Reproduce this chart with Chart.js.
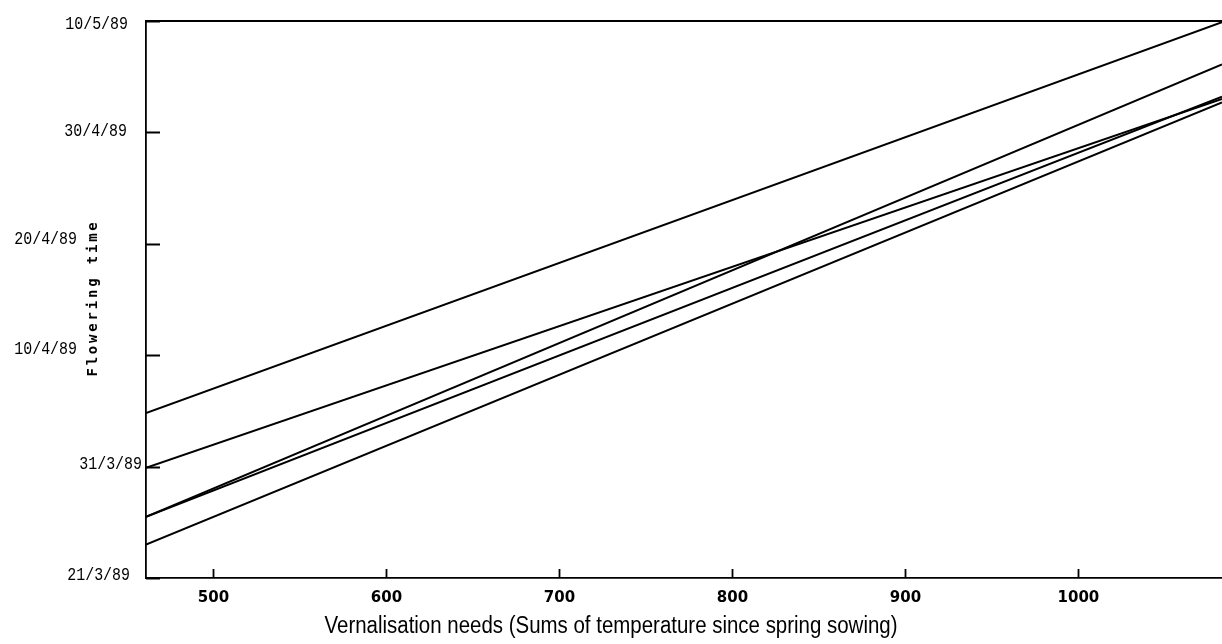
<!DOCTYPE html>
<html>
<head>
<meta charset="utf-8">
<title>Flowering time vs vernalisation needs</title>
<script src="https://cdn.jsdelivr.net/npm/chart.js@4.4.1/dist/chart.umd.min.js"></script>
<style>
  html, body { margin: 0; padding: 0; background: #fff; }
  #wrap { width: 1222px; height: 644px; position: relative; }
</style>
</head>
<body>
<div id="wrap"><canvas id="chart"></canvas></div>
<script>
// Vernalisation needs (sum of temperatures since spring sowing) at both ends of each fitted line
const vernalisationNeeds = [461, 1083];

// Flowering time, in days after 21/3/89, for each line at those two ends
const lineA = [14.8, 49.9];
const lineB = [9.9, 43.0];
const lineC = [5.5, 46.1];
const lineD = [5.5, 43.2];
const lineE = [3.0, 42.7];

// Axis ticks
const xTickValues = [500, 600, 700, 800, 900, 1000];
const dateTickDays = [0, 10, 20, 30, 40, 50];
const dateTickLabels = ['21/3/89', '31/3/89', '10/4/89', '20/4/89', '30/4/89', '10/5/89'];

const xTitle = 'Vernalisation needs (Sums of temperature since spring sowing)';
const yTitle = 'Flowering time';

// Where each date label sits: right edge (px) and vertical nudge from its tick
const dateLabelRight = [130, 142, 77, 77, 127, 128];
const dateLabelNudge = [-3, -2, -6, -5, -1.5, 3];

function toPoints(values) {
  return values.map((v, i) => ({ x: vernalisationNeeds[i], y: v }));
}

const lines = [lineA, lineB, lineC, lineD, lineE];

// Ticks that point into the plot, the top frame line, date labels and axis titles
const framePlugin = {
  id: 'frame',
  afterDatasetsDraw(chart) {
    const { ctx, chartArea, scales } = chart;
    ctx.save();
    ctx.strokeStyle = '#000';
    ctx.lineWidth = 1.8;
    ctx.beginPath();
    ctx.moveTo(chartArea.left, chartArea.top);
    ctx.lineTo(chartArea.right, chartArea.top);
    dateTickDays.forEach(d => {
      const y = Math.round(scales.y.getPixelForValue(d)) + 0.5;
      ctx.moveTo(chartArea.left, y);
      ctx.lineTo(chartArea.left + 14, y);
    });
    xTickValues.forEach(v => {
      const x = Math.round(scales.x.getPixelForValue(v)) + 0.5;
      ctx.moveTo(x, chartArea.bottom);
      ctx.lineTo(x, chartArea.bottom - 9);
    });
    ctx.stroke();

    ctx.fillStyle = '#000';

    // date labels on the left, in a narrow plotter-like face
    ctx.font = '18px "Liberation Mono", "DejaVu Sans Mono", monospace';
    ctx.textAlign = 'right';
    ctx.textBaseline = 'middle';
    dateTickDays.forEach((d, i) => {
      const y = scales.y.getPixelForValue(d) + dateLabelNudge[i];
      ctx.save();
      ctx.translate(dateLabelRight[i], y);
      ctx.scale(0.83, 1);
      ctx.fillText(dateTickLabels[i], 0, 0);
      ctx.restore();
    });

    // x title, narrowed horizontally
    ctx.font = '23px "Liberation Sans", Arial, sans-serif';
    ctx.textAlign = 'center';
    ctx.textBaseline = 'alphabetic';
    const w = ctx.measureText(xTitle).width;
    ctx.save();
    ctx.translate(chart.width / 2, 633);
    ctx.scale(573 / w, 1);
    ctx.fillText(xTitle, 0, 0);
    ctx.restore();

    // y title, rotated and letter-spaced
    ctx.save();
    ctx.font = 'bold 14px "DejaVu Sans Mono", monospace';
    ctx.letterSpacing = '2.8px';
    ctx.textAlign = 'center';
    ctx.textBaseline = 'middle';
    ctx.translate(93, 298);
    ctx.rotate(-Math.PI / 2);
    ctx.fillText(yTitle, 0, 0);
    ctx.restore();
    ctx.restore();
  }
};

new Chart(document.getElementById('chart'), {
  type: 'scatter',
  data: {
    datasets: lines.map((values, i) => ({
      label: 'line ' + (i + 1),
      data: toPoints(values),
      showLine: true,
      borderColor: '#000',
      backgroundColor: '#000',
      borderWidth: 2,
      pointRadius: 0,
      tension: 0
    }))
  },
  options: {
    responsive: true,
    maintainAspectRatio: false,
    animation: false,
    devicePixelRatio: 1,
    layout: { padding: { top: 21, right: 0, left: 0, bottom: 0 } },
    plugins: {
      legend: { display: false },
      tooltip: { enabled: false }
    },
    scales: {
      x: {
        type: 'linear',
        min: vernalisationNeeds[0],
        max: vernalisationNeeds[1],
        afterBuildTicks: s => { s.ticks = xTickValues.map(v => ({ value: v })); },
        afterFit: s => { s.height = 66; },
        grid: { display: false, drawTicks: false },
        border: { display: true, color: '#000', width: 1.8 },
        ticks: {
          color: '#000',
          padding: 11,
          maxRotation: 0,
          autoSkip: false,
          font: { family: '"DejaVu Sans", sans-serif', size: 15, weight: 'bold' },
          callback: v => String(v)
        }
      },
      y: {
        type: 'linear',
        min: dateTickDays[0],
        max: dateTickDays[dateTickDays.length - 1],
        afterBuildTicks: s => { s.ticks = dateTickDays.map(v => ({ value: v })); },
        afterFit: s => { s.width = 146; },
        grid: { display: false, drawTicks: false },
        border: { display: true, color: '#000', width: 1.8 },
        ticks: { display: false }
      }
    }
  },
  plugins: [framePlugin]
});
</script>
</body>
</html>
